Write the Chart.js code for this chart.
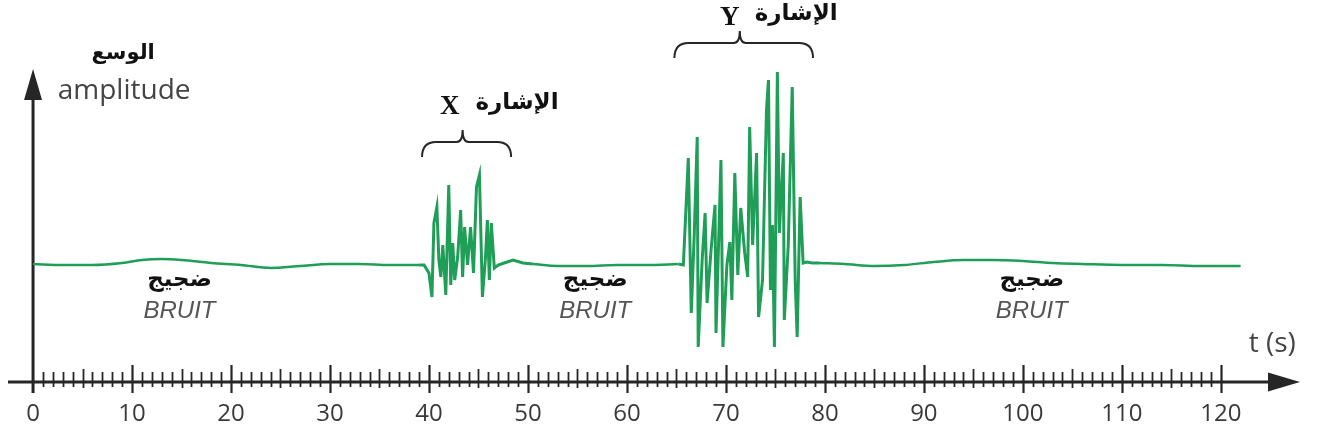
<!DOCTYPE html>
<html>
<head>
<meta charset="utf-8">
<title>Signal X / Y - amplitude</title>
<script src="https://cdn.jsdelivr.net/npm/chart.js@4.4.1/dist/chart.umd.min.js"></script>
<style>
  html, body { margin: 0; padding: 0; background: #fff; }
  #wrap { width: 1317px; height: 441px; position: relative; }
</style>
</head>
<body>
<div id="wrap"><canvas id="sigChart"></canvas></div>
<script>
// ==========================
// DATA (t in s, amplitude in arbitrary units, 0 = rest level)
// ==========================
const bruit1Time = [0, 3, 6, 9, 11, 13, 15, 18, 21, 24, 27, 30, 33, 36, 39];
const bruit1Amp  = [0.1, 0, 0, 0.2, 0.5, 0.6, 0.5, 0.2, 0, -0.3, -0.1, 0.1, 0.1, 0, 0];

const signalXTime = [39.5, 40.0, 40.3, 40.5, 40.8, 41.0, 41.2, 41.4, 41.7, 42.0, 42.2, 42.4, 42.6, 42.9,
                     43.2, 43.4, 43.6, 43.9, 44.2, 44.5, 44.8, 45.1, 45.4, 45.7, 45.9, 46.1, 46.3, 46.6,
                     47.0, 47.6, 48.5, 49.5];
const signalXAmp  = [0, -0.8, -3.2, 4.2, 5.8, 0.5, -1.2, 2.0, -3.0, 8.0, -2.0, 2.2, -1.5, 0.8,
                     5.5, -1.2, 3.8, 0.0, 3.8, -0.8, 7.8, 9.0, -3.2, 0.6, 4.5, -1.5, 4.2, -0.3,
                     0.0, 0.2, 0.5, 0.2];

const bruit2Time = [50.5, 53, 56, 59, 62, 65.2];
const bruit2Amp  = [0.1, -0.1, -0.1, 0, 0, 0.1];

const signalYTime = [65.7, 66.2, 66.5, 66.8, 67.1, 67.2, 67.6, 67.9, 68.1, 68.5, 68.9, 69.0, 69.5, 69.7,
                     70.1, 70.4, 70.6, 70.9, 71.2, 71.5, 71.9, 72.2, 72.4, 72.7, 73.1, 73.3, 73.7, 74.1,
                     74.3, 74.5, 74.7, 74.9, 75.2, 75.4, 75.8, 75.9, 76.3, 76.7, 77.0, 77.2, 77.5, 77.8,
                     78.2, 78.7];
const signalYAmp  = [0, 10.7, -4.8, 3.0, 12.8, -8.2, 0.5, 5.2, -3.8, 1.5, 6.0, -6.8, 10.5, -8.2,
                     0.0, 2.3, -3.5, 9.2, -1.0, 5.7, 1.2, -1.2, 13.8, 2.0, 11.2, -5.2, -1.5, 15.5,
                     18.5, -2.5, 4.0, -8.2, 19.3, 3.2, 11.2, -5.5, 2.0, 17.8, -1.5, -7.2, 6.8, 0.2,
                     0.3, 0.2];

const bruit3Time = [79.5, 82, 85, 88, 91, 94, 97, 100, 103, 106, 110, 114, 118, 122];
const bruit3Amp  = [0.2, 0.1, -0.1, 0, 0.3, 0.5, 0.5, 0.4, 0.2, 0.1, 0, 0, -0.1, -0.1];

// graduations of the time axis
const tickValues = Array.from({ length: 121 }, (_, i) => i);   // 0 .. 120 s, every second
const labelEvery = 10;

// annotations
const bruitLabels  = [['ضجيج', 'BRUIT', 14.8], ['ضجيج', 'BRUIT', 56.8], ['ضجيج', 'BRUIT', 100.9]];
const signalLabels = [
    { name: 'X', word: 'الإشارة', t0: 39.3, t1: 48.3, tc: 43.4, yEnd: 10.8, yMid: 12.3, yTop: 13.5, nameT: 42.1, wordT: 48.9, textY: 15.8 },
    { name: 'Y', word: 'الإشارة', t0: 64.8, t1: 78.8, tc: 71.4, yEnd: 20.7, yMid: 22.2, yTop: 23.4, nameT: 70.4, wordT: 77.1, textY: 24.7 }
];

// ==========================
// BUILD POINTS
// ==========================
function toPoints(times, amps) {
    return times.map((t, i) => ({ x: t, y: amps[i] }));
}
const b1 = toPoints(bruit1Time, bruit1Amp);
const b2 = toPoints(bruit2Time, bruit2Amp);
const b3 = toPoints(bruit3Time, bruit3Amp);
const gap = t => ({ x: t, y: null });

// calm parts (smooth) and bursts (sharp), joined at their ends
const noisePoints = [...b1, gap(44), ...b2, gap(72), ...b3];
const burstPoints = [
    b1[b1.length - 1], ...toPoints(signalXTime, signalXAmp), b2[0],
    gap(58),
    b2[b2.length - 1], ...toPoints(signalYTime, signalYAmp), b3[0]
];

// ==========================
// PLUGIN: arrows, graduations, labels
// ==========================
const axisInk = '#262626';

const axesPlugin = {
    id: 'arrowAxes',
    beforeDatasetsDraw(chart) {
        const { ctx, chartArea, scales: { x, y } } = chart;
        const yAxis = chartArea.bottom;
        const x0 = x.getPixelForValue(0);
        ctx.save();
        ctx.strokeStyle = axisInk;
        ctx.fillStyle = axisInk;

        // horizontal axis + arrow
        ctx.lineWidth = 3;
        ctx.beginPath();
        ctx.moveTo(chartArea.left, yAxis);
        ctx.lineTo(chartArea.right - 20, yAxis);
        ctx.stroke();
        ctx.beginPath();
        ctx.moveTo(chartArea.right, yAxis);
        ctx.lineTo(chartArea.right - 32, yAxis - 9.5);
        ctx.lineTo(chartArea.right - 32, yAxis + 9.5);
        ctx.closePath();
        ctx.fill();

        // vertical axis + arrow
        const yTip = y.getPixelForValue(19.6);
        ctx.beginPath();
        ctx.moveTo(x0, yAxis + 11);
        ctx.lineTo(x0, yTip + 20);
        ctx.stroke();
        ctx.beginPath();
        ctx.moveTo(x0, yTip);
        ctx.lineTo(x0 - 9, yTip + 31);
        ctx.lineTo(x0 + 9, yTip + 31);
        ctx.closePath();
        ctx.fill();

        // graduations
        tickValues.forEach(v => {
            if (v === 0) return;
            const px = Math.round(x.getPixelForValue(v)) + 0.5;
            let up = 10, down = 5;
            ctx.lineWidth = 1.8;
            if (v % labelEvery === 0) { up = 17; down = 11; ctx.lineWidth = 2.2; }
            else if (v % 5 === 0) { up = 13; down = 6; }
            ctx.beginPath();
            ctx.moveTo(px, yAxis - up);
            ctx.lineTo(px, yAxis + down);
            ctx.stroke();
        });
        ctx.restore();
    },
    afterDatasetsDraw(chart) {
        const { ctx, scales: { x, y } } = chart;
        ctx.save();
        ctx.textAlign = 'center';
        ctx.textBaseline = 'middle';

        // axis titles
        ctx.fillStyle = '#111';
        ctx.font = "bold 21px 'DejaVu Sans'";
        ctx.direction = 'rtl';
        ctx.fillText('الوسع', x.getPixelForValue(9.1), y.getPixelForValue(21.1));
        ctx.direction = 'ltr';
        ctx.fillStyle = '#444';
        ctx.font = "28px 'Open Sans'";
        ctx.fillText('amplitude', x.getPixelForValue(9.2), y.getPixelForValue(17.4));
        ctx.fillText('t (s)', x.getPixelForValue(125.2), y.getPixelForValue(-7.9));

        // noise labels
        bruitLabels.forEach(([ar, fr, t]) => {
            ctx.fillStyle = '#111';
            ctx.font = "bold 23px 'DejaVu Sans'";
            ctx.direction = 'rtl';
            ctx.fillText(ar, x.getPixelForValue(t), y.getPixelForValue(-1.5));
            ctx.direction = 'ltr';
            ctx.fillStyle = '#555';
            ctx.font = "italic 24px 'Liberation Sans'";
            ctx.fillText(fr, x.getPixelForValue(t), y.getPixelForValue(-4.6));
        });

        // signal braces + names
        signalLabels.forEach(s => {
            const xa = x.getPixelForValue(s.t0), xb = x.getPixelForValue(s.t1), xc = x.getPixelForValue(s.tc);
            const ye = y.getPixelForValue(s.yEnd), ym = y.getPixelForValue(s.yMid), yt = y.getPixelForValue(s.yTop);
            const r = 14;
            ctx.strokeStyle = axisInk;
            ctx.lineWidth = 2;
            ctx.beginPath();
            ctx.moveTo(xa, ye);
            ctx.quadraticCurveTo(xa, ym, xa + r, ym);
            ctx.lineTo(xc - 6, ym);
            ctx.quadraticCurveTo(xc, ym, xc, yt);
            ctx.quadraticCurveTo(xc, ym, xc + 6, ym);
            ctx.lineTo(xb - r, ym);
            ctx.quadraticCurveTo(xb, ym, xb, ye);
            ctx.stroke();

            ctx.fillStyle = '#111';
            ctx.font = "bold 27px 'Liberation Serif'";
            ctx.fillText(s.name, x.getPixelForValue(s.nameT), y.getPixelForValue(s.textY));
            ctx.font = "bold 23px 'DejaVu Sans'";
            ctx.direction = 'rtl';
            ctx.fillText(s.word, x.getPixelForValue(s.wordT), y.getPixelForValue(s.textY + 0.4));
            ctx.direction = 'ltr';
        });
        ctx.restore();
    }
};

// ==========================
// CHART
// ==========================
new Chart(document.getElementById('sigChart'), {
    type: 'line',
    data: {
        datasets: [
            {
                data: noisePoints,
                borderColor: '#1f9e58',
                borderWidth: 2.5,
                pointRadius: 0,
                cubicInterpolationMode: 'monotone',
                spanGaps: false,
                fill: false
            },
            {
                data: burstPoints,
                borderColor: '#1f9e58',
                borderWidth: 3,
                borderJoinStyle: 'miter',
                pointRadius: 0,
                tension: 0,
                spanGaps: false,
                fill: false
            }
        ]
    },
    options: {
        responsive: true,
        maintainAspectRatio: false,
        animation: false,
        layout: { padding: { left: 8, right: 17, top: 0, bottom: 0 } },
        plugins: { legend: { display: false }, tooltip: { enabled: false } },
        scales: {
            x: {
                type: 'linear',
                min: -2.53,
                max: 128,
                grid: { display: false, drawTicks: false },
                border: { display: false },
                afterBuildTicks: scale => { scale.ticks = tickValues.map(v => ({ value: v })); },
                afterFit: scale => { scale.height = 59; },
                ticks: {
                    autoSkip: false,
                    maxRotation: 0,
                    padding: 18,
                    color: '#3a3a3a',
                    font: { family: 'Open Sans', size: 24 },
                    callback: v => (v % labelEvery === 0 ? String(v) : '')
                }
            },
            y: { display: false, min: -11.7, max: 26.5 }
        }
    },
    plugins: [axesPlugin]
});
</script>
</body>
</html>
